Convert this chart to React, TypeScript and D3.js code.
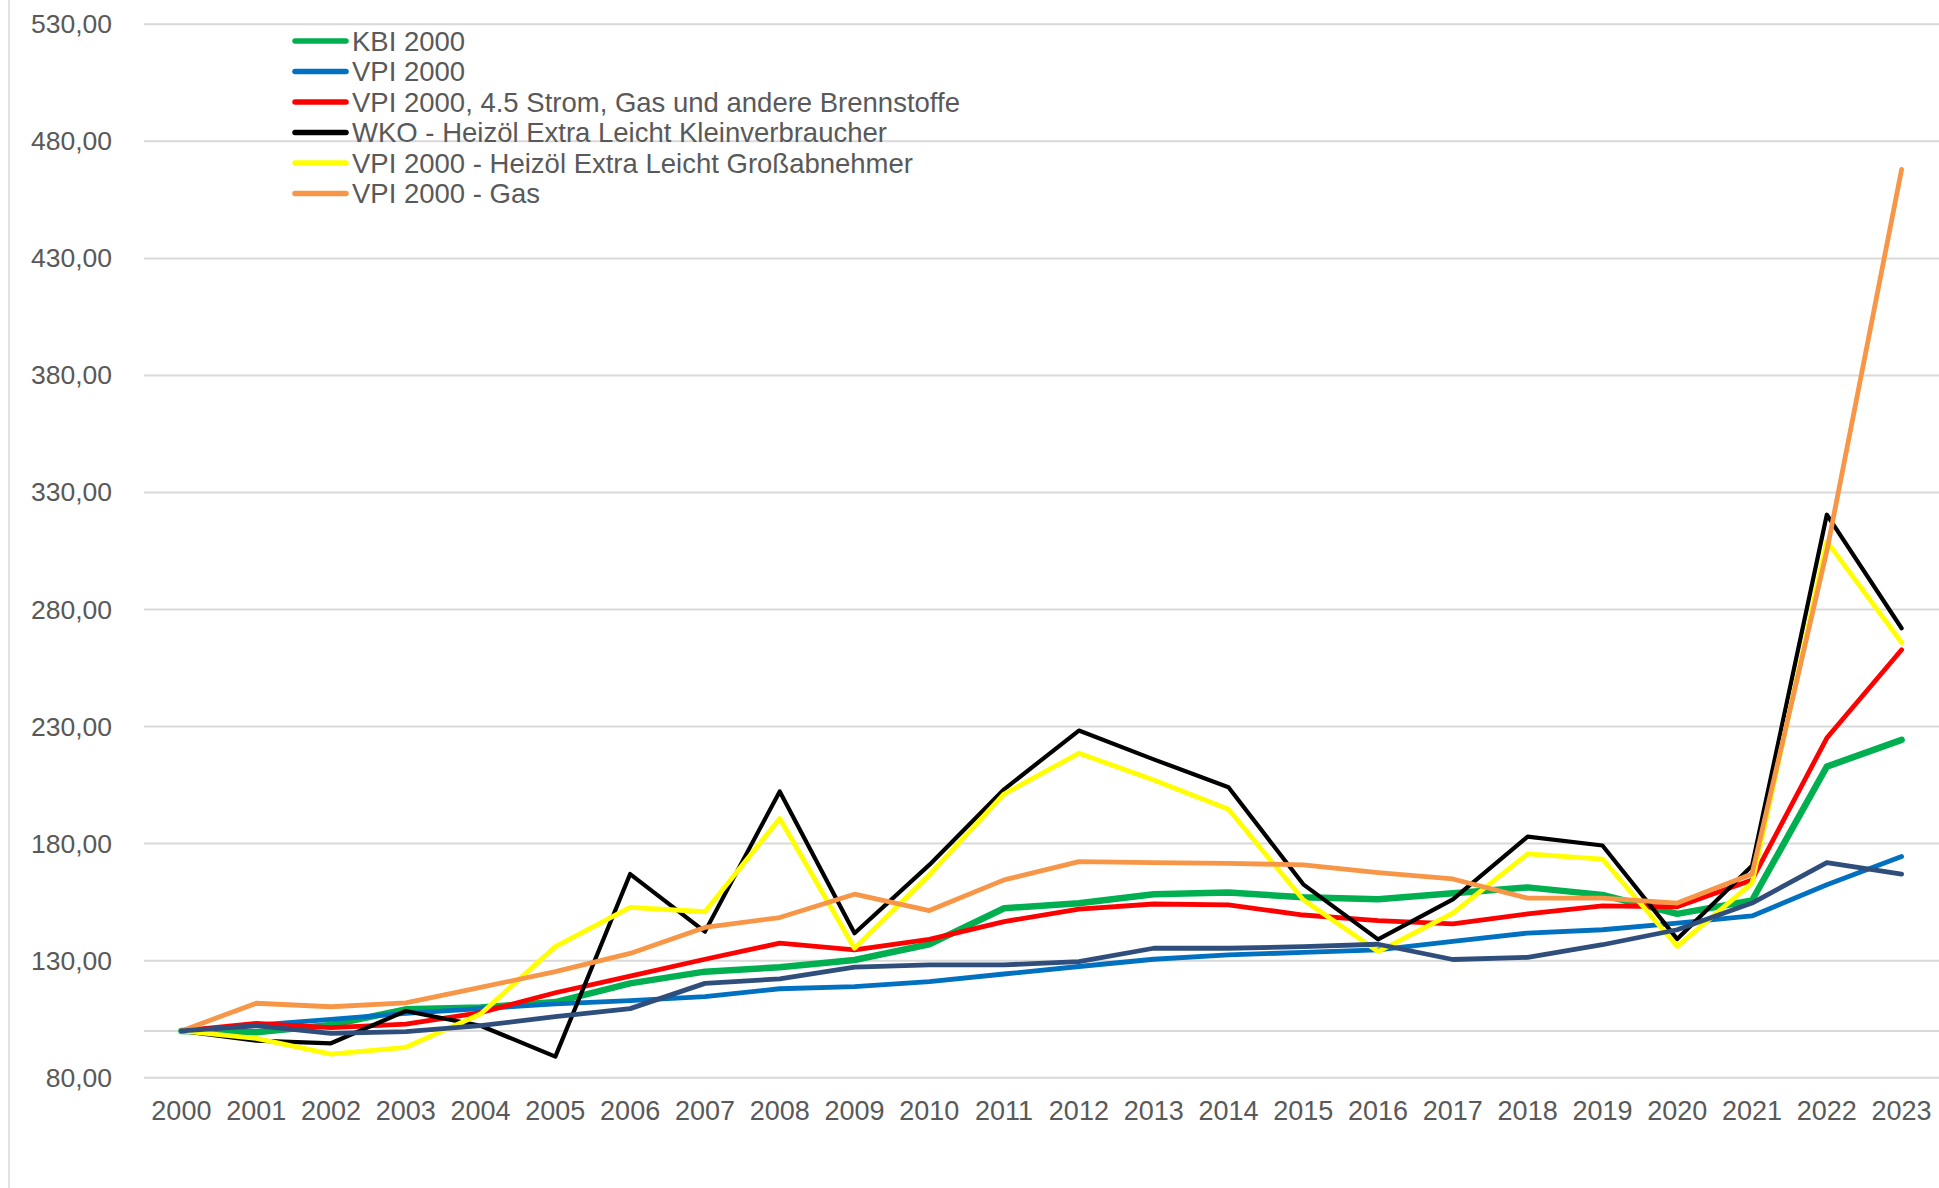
import React from "react";
import * as d3 from "d3";

const years = d3.range(2000, 2024).map(String);
const yTicks = [80, 130, 180, 230, 280, 330, 380, 430, 480, 530];

const kbi = [100, 99.4, 102.5, 109.2, 110, 112.3, 120.3, 125.3, 127.2, 130.3, 137, 152.4, 154.5, 158.4, 159.1, 157.1, 156.2, 158.8, 161.3, 158.1, 150, 155.7, 212.9, 224.3];
const vpi = [100, 102.5, 104.9, 107.5, 109.5, 111.5, 112.9, 114.6, 118, 118.9, 121, 124.3, 127.5, 130.6, 132.5, 133.5, 134.6, 138.2, 141.8, 143.2, 146, 149.1, 162.4, 174.5];
const vpiEnergy = [100, 103.2, 101.4, 102.9, 107.8, 116.3, 123.4, 130.6, 137.5, 134.6, 139.1, 146.7, 152, 154.2, 153.8, 149.5, 147.1, 145.7, 150, 153.4, 153, 164.5, 225.1, 262.8];
const wkoHeizoel = [100, 95.8, 94.7, 108.5, 102.2, 89.0, 167, 142.4, 202.3, 141.7, 170.9, 203.2, 228.3, 216, 204.1, 162.6, 139.1, 156.2, 183, 179.2, 139.2, 170.5, 320.5, 272];
const vpiHeizoel = [100, 96.8, 90.1, 93, 107.2, 136, 152.8, 150.9, 190.7, 135.3, 166.6, 201.2, 218.6, 207.2, 194.7, 156, 133.9, 150.3, 175.6, 173.4, 136.1, 163.1, 309.1, 265.9];
const vpiGas = [100, 111.8, 110.3, 112, 118.6, 125.3, 133.1, 144.2, 148.4, 158.4, 151.4, 164.5, 172.3, 171.9, 171.6, 170.9, 167.6, 164.9, 156.7, 156.7, 154.6, 167, 305, 468];
const unlabeled = [100, 102.2, 98.9, 99.7, 102.2, 106.1, 109.5, 120.3, 122.2, 127.2, 128.2, 128.2, 129.6, 135.3, 135.3, 136, 137, 130.5, 131.4, 136.8, 143.2, 154.6, 171.9, 167];

const series = [
  { name: "KBI 2000", values: kbi, color: "#00B050", width: 6.5, legend: true },
  { name: "VPI 2000", values: vpi, color: "#0070C0", width: 4.8, legend: true },
  { name: "VPI 2000, 4.5 Strom, Gas und andere Brennstoffe", values: vpiEnergy, color: "#FF0000", width: 4.8, legend: true },
  { name: "WKO - Heizöl Extra Leicht Kleinverbraucher", values: wkoHeizoel, color: "#000000", width: 4.2, legend: true },
  { name: "VPI 2000 - Heizöl Extra Leicht Großabnehmer", values: vpiHeizoel, color: "#FFFF00", width: 4.8, legend: true },
  { name: "VPI 2000 - Gas", values: vpiGas, color: "#F79646", width: 4.8, legend: true },
  { name: "", values: unlabeled, color: "#2F4E7C", width: 4.8, legend: false },
];

const W = 1939;
const H = 1188;
const FONT = "'Liberation Sans', Arial, sans-serif";
const TEXT = "#595959";
const GRID = "#D9D9D9";

export default function App() {
  const x = d3.scalePoint<string>().domain(years).range([144, 1939]).padding(0.5);
  const y = d3.scaleLinear().domain([80, 530]).range([1077.7, 24.3]);
  const line = d3
    .line<number>()
    .x((_, i) => x(years[i]) as number)
    .y((d) => y(d));
  const fmt = (v: number) => d3.format(".2f")(v).replace(".", ",");
  const legendItems = series.filter((s) => s.legend);

  return (
    <svg
      width={W}
      height={H}
      style={{ position: "absolute", left: 0, top: 0, background: "#fff" }}
      fontFamily={FONT}
    >
      <rect x={0} y={0} width={W} height={H} fill="#fff" />
      <line x1={9} x2={9} y1={0} y2={H} stroke={GRID} strokeWidth={1.5} />
      {yTicks.map((t) => (
        <g key={t}>
          <line x1={144} x2={1939} y1={y(t)} y2={y(t)} stroke={GRID} strokeWidth={2} />
          <text x={112} y={y(t)} textAnchor="end" dominantBaseline="central" fontSize={26.5} fill={TEXT}>
            {fmt(t)}
          </text>
        </g>
      ))}
      <line x1={144} x2={1939} y1={y(100)} y2={y(100)} stroke={GRID} strokeWidth={2} />
      {years.map((yr) => (
        <text key={yr} x={x(yr)} y={1111} textAnchor="middle" dominantBaseline="central" fontSize={27} fill={TEXT}>
          {yr}
        </text>
      ))}
      {series.map((s, i) => (
        <path
          key={i}
          d={line(s.values) as string}
          fill="none"
          stroke={s.color}
          strokeWidth={s.width}
          strokeLinejoin="round"
          strokeLinecap="round"
        />
      ))}
      {legendItems.map((s, i) => {
        const cy = 41 + i * 30.5;
        return (
          <g key={s.name}>
            <line x1={295} x2={346} y1={cy} y2={cy} stroke={s.color} strokeWidth={5.5} strokeLinecap="round" />
            <text x={352} y={cy} dominantBaseline="central" fontSize={27.5} fill={TEXT}>
              {s.name}
            </text>
          </g>
        );
      })}
    </svg>
  );
}
